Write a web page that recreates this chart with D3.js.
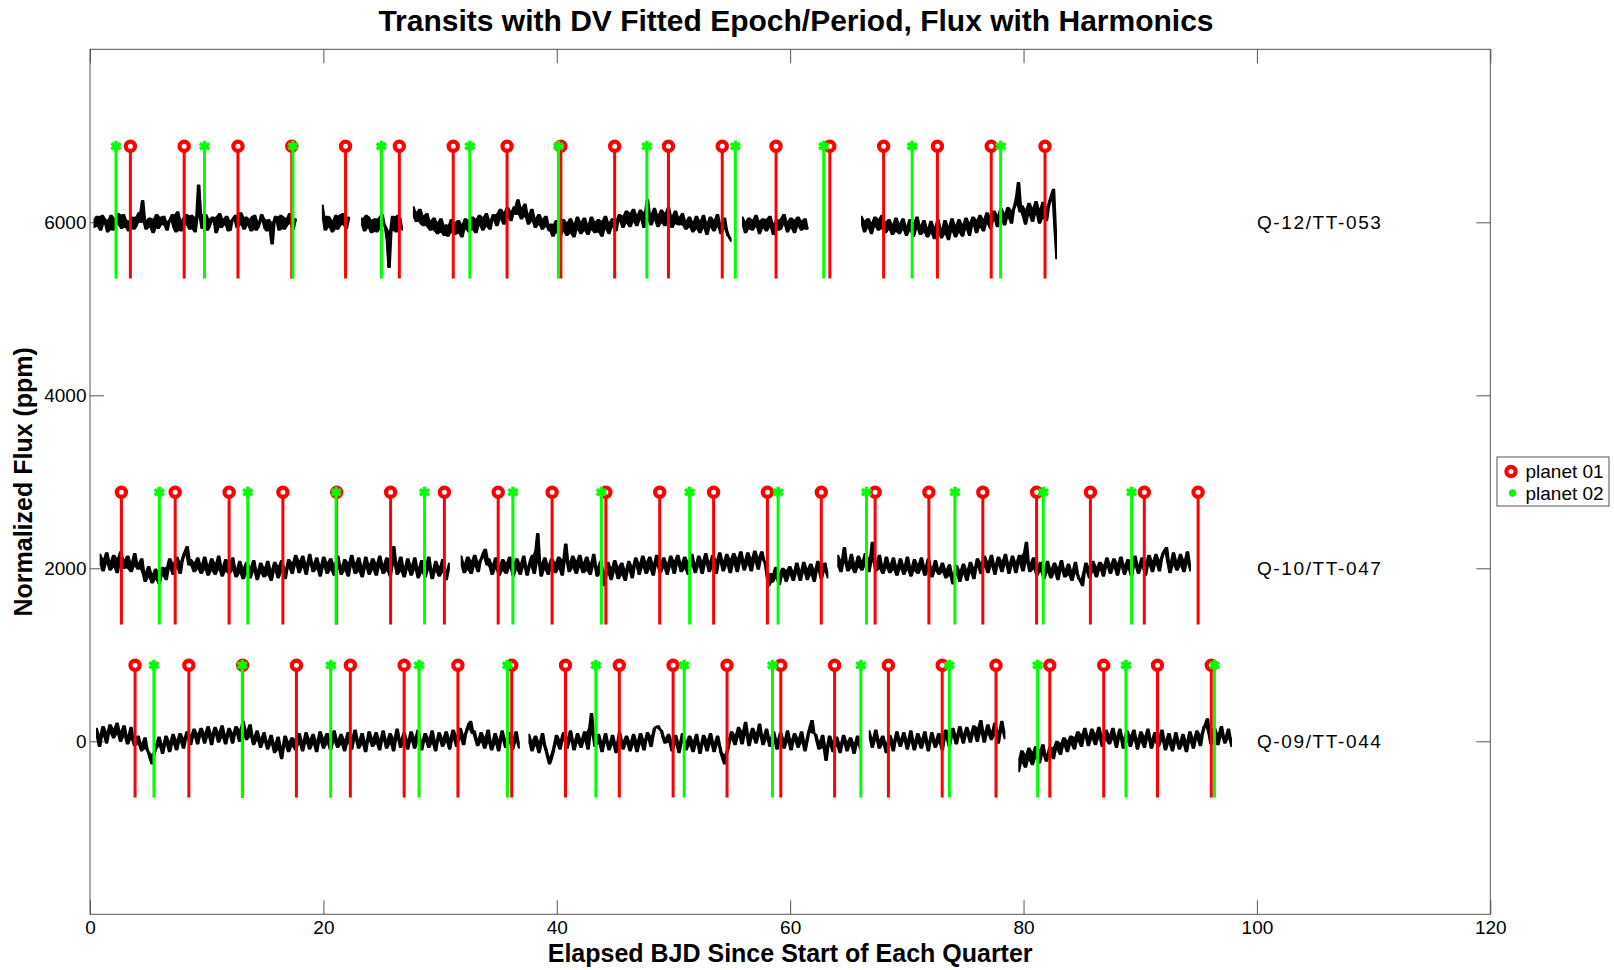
<!DOCTYPE html>
<html>
<head>
<meta charset="utf-8">
<script src="https://cdn.jsdelivr.net/npm/d3@7"></script>
<style>
  html, body { margin: 0; padding: 0; background: #fff; }
  svg { display: block; font-family: "Liberation Sans", Arial, Helvetica, sans-serif; }
</style>
</head>
<body>
<svg id="chart"></svg>
<script>
// quarters, plotted bottom to top with a flux offset each
const quarterLabels = ["Q-12/TT-053", "Q-10/TT-047", "Q-09/TT-044"];
const quarterOffsets = [6000, 2000, 0];

// transit times (days since start of quarter)
const q12Planet01 = [3.46, 8.07, 12.68, 17.29, 21.90, 26.51, 31.13, 35.74, 40.35, 44.96, 49.57, 54.18, 58.79, 63.40, 68.01, 72.62, 77.23, 81.84];
const q12Planet02 = [2.23, 9.81, 17.39, 24.97, 32.55, 40.14, 47.72, 55.30, 62.88, 70.46, 78.04];
const q10Planet01 = [2.69, 7.30, 11.92, 16.53, 21.14, 25.76, 30.37, 34.98, 39.60, 44.21, 48.82, 53.44, 58.05, 62.67, 67.28, 71.89, 76.51, 81.12, 85.73, 90.35, 94.96];
const q10Planet02 = [5.94, 13.52, 21.09, 28.67, 36.24, 43.82, 51.39, 58.97, 66.54, 74.12, 81.69, 89.26];
const q09Planet01 = [3.86, 8.47, 13.08, 17.69, 22.31, 26.92, 31.53, 36.14, 40.75, 45.36, 49.97, 54.59, 59.20, 63.81, 68.42, 73.03, 77.64, 82.25, 86.87, 91.48, 96.09];
const q09Planet02 = [5.48, 13.05, 20.63, 28.20, 35.77, 43.35, 50.92, 58.49, 66.06, 73.64, 81.21, 88.78, 96.36];

// stem extent relative to the quarter offset (ppm)
const stemRange = [-650, 880];

// flux: segments sampled every fluxStep days, values in ppm about the offset
const fluxStep = 0.15;
const q12FluxStarts = [0.31, 19.87, 23.23, 27.67, 55.87, 66.07];
const q12FluxValues = [
  [-60, 40, 70, -50, -90, 80, 40, -20, -110, 30, 80, -90, -40, 50, 100, -30, -70, 90, 30, -60,
   -100, 20, 60, -80, -50, 70, 110, 0, 250, 30, -80, -10, 50, -60, -120, 40, 90, -70, -30, 60,
   70, -40, -90, 10, 40, 90, -60, -110, 120, 30, -100, -20, 60, 90, -40, -80, 80, 20, -110, 60,
   430, 100, -70, -20, 90, -90, -50, 40, 60, 10, -120, 70, 100, -60, -30, 40, 70, -100, -90, 20,
   50, 80, -60, -30, 110, 20, -80, 60, 40, -40, -100, 70, 80, -90, -50, 10, 90, 40, -70, -100,
   30, -60, -250, 0, 70, 20, -90, 80, 60, -80, -40, 50, 100, -20, -80, 40, 20],
  [200, 40, -90, 70, 60, -60, -110, 20, 80, -80, -40, 90, 100, -30, -70, 60, 30],
  [50, -30, -100, 80, 60, -70, -120, 30, 40, -110, -80, 60, 90, -20, -60, -200, -520, -100, 70, 0,
   -110, 80, 50, -60, -90],
  [180, 60, 10, 120, 150, -20, -40, 80, 100, -60, -90, 20, 50, -100, -130, 0, 40, -120, -150, -30,
   -160, -40, 30, -120, -140, 0, 20, -130, -170, -20, 40, -80, -110, 20, 60, -90, -120, 40, 80, -40,
   -90, 60, 100, -50, -80, 30, 90, 20, -40, 110, 150, 30, -20, 120, 170, 60, 20, 130, 180, 90,
   260, 150, 40, 170, 210, 60, -20, 100, 150, 10, -60, 50, 90, -30, -80, 40, 70, -50, -100, -20,
   -160, -60, 20, -120, -180, -20, 30, -110, -150, 0, 40, -130, -170, -10, 60, -90, -130, 10, 50, -100,
   -140, -20, 60, -90, -120, 10, 30, -120, -160, 20, 70, -80, -130, 0, 40, -60, -100, 30, 90, 10,
   -60, 80, 130, -10, -50, 110, 150, 0, -40, 90, 140, 30, -60, 120, 260, 40, -30, 100, 160, 20,
   -50, 90, 140, -10, -40, 110, 170, 20, -60, 80, 130, -20, -30, 60, 100, -40, -80, 20, 60, -60,
   -110, 10, 70, -80, -120, 20, 80, -70, -140, 0, 60, -60, -100, 30, 90, -50, -130, -10, 50, -80,
   -150, -180, -220],
  [60, -40, -120, 10, 50, -80, -90, 30, 80, -50, -130, 20, 40, -70, -100, 40, 70, -60, -140, -10,
   30, -90, -80, 50, 90, -30, -110, 10, 50, -70, -120, 30, 60, -50, -90, 20, 40, -80, -60],
  [70, -30, -110, 20, 40, -70, -130, 0, 60, -50, -90, 40, 80, -80, -120, 10, 30, -90, -140, -20,
   50, -110, -130, -10, 40, -90, -150, -40, 30, -100, -160, 0, 60, -80, -140, -30, 20, -120, -170, -60,
   10, -130, -190, -50, 30, -100, -180, -70, 20, -140, -200, -40, 40, -110, -170, -30, 30, -120, -160, -20,
   50, -80, -150, 0, 60, -40, -120, 30, 80, -60, -100, 40, 110, -20, -70, 70, 130, 20, -50, 90,
   160, 40, -30, 110, 170, 50, -10, 140, 200, 300, 460, 120, 190, 60, -20, 150, 220, 80, 10, 170,
   240, 90, -10, 160, 230, 40, 20, 180, 250, 320, 380, -100, -420]
];
const q10FluxStarts = [0.83, 31.77, 64.05];
const q10FluxValues = [
  [160, 40, -30, 110, 180, 50, -20, 90, 150, 10, -50, 120, 190, 60, 0, 100, 140, -10, -40, 80,
   170, 20, -10, 60, 110, -60, -150, -40, 20, -110, -170, -60, -10, -130, -180, -80, 10, -90, -130, 20,
   110, -10, -70, 60, 130, 0, -60, 80, 150, 200, 250, 40, 100, 20, -40, 70, 120, -10, -60, 50,
   130, -20, -80, 40, 110, -30, -70, 60, 140, -20, -90, 30, 100, -40, -60, 50, 120, -30, -100, 0,
   80, -60, -120, 10, 70, -70, -110, 20, 90, -40, -130, -20, 60, -60, -100, 10, 80, -80, -140, -10,
   70, -40, -110, 30, 90, -50, -120, 0, 100, 20, -60, 70, 150, 30, -50, 90, 140, 10, -70, 60,
   160, 40, -40, 60, 120, -10, -90, 40, 130, 10, -60, 70, 110, -20, -80, 50, 140, 20, -70, 30,
   100, -30, -90, 70, 150, 20, -60, 60, 120, -40, -100, 30, 130, 0, -70, 50, 110, -20, -80, 60,
   140, 10, -60, 50, 120, -30, -90, 100, 250, 40, -70, 60, 130, -40, -100, 20, 110, -10, -80, 40,
   120, -20, -110, 10, 90, -50, -100, 30, 130, -20, -120, -10, 80, -40, -90, 20, 100, -50, -130, -20, 60],
  [140, 30, -50, 60, 130, -20, -60, 90, 150, 20, -40, 80, 120, 180, 220, 40, 110, 10, -70, 50,
   120, -10, -80, 40, 100, -30, -60, 70, 130, 0, -90, 30, 110, -20, -70, 60, 140, 10, -80, 20,
   100, 150, -60, 200, 400, 60, -90, 40, 120, -20, -70, 50, 110, 20, -50, 70, 130, -10, -80, 100,
   280, 80, -40, 60, 140, 0, -60, 90, 150, 10, -50, 70, 130, -30, -70, 60, 160, 20, -90, 0,
   80, -60, -200, -40, 70, -70, -130, 10, 90, -40, -120, 20, 60, -80, -140, -10, 80, -30, -110, 30,
   120, 20, -70, 60, 140, 10, -60, 80, 130, -10, -80, 60, 150, 30, -50, 50, 120, 0, -70, 60,
   140, 20, -60, 90, 150, 40, -40, 70, 130, -10, -70, 80, 160, 30, -50, 60, 140, 20, -60, 90,
   170, 50, -40, 80, 150, 20, -60, 100, 180, 60, -30, 90, 160, 30, -50, 110, 170, 40, -40, 120,
   190, 60, -20, 100, 180, 40, -30, 120, 200, 70, -10, 130, 190, 100, 60, -80,
   -200, -60, -160, -100, 10, -120, -190, -50, 0, -90, -150, -20, 20, -80, -140, -30,
   60, -60, -140, -20, 70, -50, -130, 0, 50, -80, -150, -10, 80, -30, -120, 0, 60, -40, -110],
  [150, 20, -40, 100, 240, 60, -30, 70, 160, 0, -50, 60, 140, 10, -20, 90, 170, 30, -40, 120,
   300, 80, -30, 50, 150, -10, -60, 40, 130, 0, -50, 50, 120, -20, -80, 30, 110, -10, -70, 40,
   130, -20, -90, 20, 100, -30, -60, 50, 120, -10, -80, 30, 110, -40, -100, 10, 90, -30, -70, 0,
   60, -50, -110, -10, 40, -90, -180, -60, 30, -80, -150, -20, 50, -70, -140, -10, 70, -50, -120, 10,
   110, 20, -60, 70, 140, 10, -50, 80, 150, 20, -70, 50, 130, 30, -40, 90, 160, 40, -60, 60,
   140, 30, -50, 80, 150, 50, -30, 180, 300, 60, -40, 40, 120, -10, -80, 0, 70, -40, -120, -10,
   80, -50, -110, 0, 60, -60, -130, 10, 90, -30, -100, -10, 50, -80, -140, -20, 70, -60, -120, -150,
   -200, -40, 60, -30, -110, 10, 80, -40, -100, 20, 70, -20, -90, 40, 120, 10, -60, 50, 110, 0,
   -80, 60, 130, 10, -70, 40, 100, -10, -90, 50, 140, 20, -60, 40, 120, 10, -80, 70, 150, 30,
   -40, 90, 160, 40, -30, 100, 170, 210, 240, 60, -50, 80, 180, 30, -20, 90, 160, 20, -40, 100, 190, 50, -30]
];
const q09FluxStarts = [0.52, 37.58, 66.74, 79.56];
const q09FluxValues = [
  [150, 40, -60, 80, 170, 60, -20, 110, 190, 90, 40, 150, 210, 80, 0, 120, 180, 50, -30, 70,
   160, 20, -50, 10, 60, -40, -110, -20, 40, -90, -130, -200, -260, -150, -90, -20, 50, -60, -140, -30,
   60, -40, -120, 0, 80, -30, -100, 20, 90, -10, -80, 40, 110, 30, -40, 80, 140, 50, -30, 90,
   150, 60, -20, 100, 170, 50, -40, 90, 160, 70, -10, 110, 180, 40, -30, 80, 150, 60, -20, 100,
   170, 80, 0, 140, 230, 90, 20, 130, 190, 50, -40, 60, 120, 10, -70, 40, 100, -10, -90, 0,
   70, -40, -130, -20, 50, -100, -200, -60, 60, -50, -120, 0, 40, -60, -100, 20, 90, -30, -110, 10,
   100, -20, -90, 30, 80, -40, -120, 10, 110, -10, -80, 40, 90, -30, -100, 20, 120, -10, -70, 30,
   80, -40, -110, 20, 100, -20, -90, 50, 130, 10, -80, 20, 90, -40, -120, 0, 110, 10, -60, 40,
   100, -30, -100, 30, 120, 10, -80, 20, 90, -30, -110, 40, 140, 20, -70, 30, 100, -20, -90, 20,
   110, 0, -80, 50, 130, -10, -100, 10, 90, 0, -70, 40, 120, -30, -110, 10, 100, 20, -60, 40,
   110, -10, -90, 40, 130, 20, -60, 70, 150, 30, -40, 80, 140, 200, 230, 90, 120, 20, -50, 30,
   100, -10, -80, 50, 130, -20, -100, 0, 90, -30, -110, 20, 120, 10, -70, 30, 100, -20, -90, 30, 110, -10, -80],
  [80, -20, -110, 10, 60, -50, -130, 0, 90, -30, -100, -180, -260, -200, -120, -30, 70, -10, -90, 20,
   100, 10, -80, 40, 120, 0, -100, 10, 90, -20, -70, 30, 110, 0, -90, 150, 320, 80, -60, 20,
   80, -30, -120, 0, 90, -20, -100, -10, 70, -40, -130, -20, 100, 10, -90, -10, 60, -30, -110, 0,
   80, -40, -120, 10, 90, -30, -100, 20, 100, 30, -60, 60, 150, 170, 180, 140, 120, 40, -20, 30,
   80, -20, -110, 10, 70, -40, -130, -10, 90, -20, -100, 0, 60, -50, -120, 10, 80, -40, -140, -30,
   70, -20, -110, 20, 90, -30, -120, -10, 60, -40, -130, -200, -260, -150, -80, 30, 110, 20, -40, 80,
   160, 50, -30, 120, 220, 70, -50, 80, 150, 40, -20, 100, 200, 60, -40, 70, 140, 20, -60, 40,
   110, 0, -90, 20, 100, 10, -80, 30, 120, -10, -100, 20, 90, 0, -70, 40, 110, -20, -110, 0,
   100, 170, 240, 90, 80, -10, -90, 0, 70, -80, -220, -50, 60, -40, -120, 0, 50, -60, -130, -20,
   70, -30, -110, 0, 40, -50, -140, -20, 60, -40, -100],
  [120, 30, -70, 40, 130, 10, -80, 20, 60, -40, -130, -20, 70, -30, -110, 10, 110, 20, -60, 30,
   100, 0, -90, 20, 120, -10, -100, 10, 90, -20, -80, 30, 110, -10, -110, 0, 100, 20, -70, 20,
   90, -20, -100, 40, 130, 30, -60, 60, 150, 50, -30, 80, 170, 60, -20, 90, 160, 70, -10, 100,
   180, 80, 0, 160, 240, 90, -10, 110, 190, 80, 20, 120, 210, 60, -20, 120, 230, 110, 30],
  [-350, -200, -110, -250, -300, -150, -80, -220, -270, -120, -60, -200, -250, -100, -40, -160, -230, -150, -70, -120,
   -200, -60, 0, -100, -150, -20, 40, -60, -120, 10, 60, -40, -90, 50, 110, 0, -60, 80, 150, 40,
   -50, 60, 140, 20, -40, 90, 160, 30, -60, 70, 130, 10, -30, 80, 150, 20, -70, 60, 140, 30,
   -80, 40, 120, 0, -60, 70, 130, 10, -90, 30, 110, -10, -70, 60, 140, 20, -80, 30, 100, -10,
   -60, 50, 130, 0, -100, 20, 90, -30, -110, 10, 100, -20, -90, 0, 80, -40, -120, 10, 110, -10,
   -80, 40, 120, 20, -50, 80, 160, 200, 260, 90, -30, 60, 150, 30, -40, 90, 170, 50, -20, 60, 140, 30, -60]
];

const planetNames = ["planet 01", "planet 02"];
const planetColors = ["#ff0000", "#00ff00"];
const xTicks = [0, 20, 40, 60, 80, 100, 120];
const yTicks = [0, 2000, 4000, 6000];

const fluxStarts = [q12FluxStarts, q10FluxStarts, q09FluxStarts];
const fluxValues = [q12FluxValues, q10FluxValues, q09FluxValues];
const planet01 = [q12Planet01, q10Planet01, q09Planet01];
const planet02 = [q12Planet02, q10Planet02, q09Planet02];

// layout
const W = 1614, H = 970;
const plotL = 90, plotR = 1490.3, plotT = 49.3, plotB = 914.3;

const svg = d3.select("#chart").attr("width", W).attr("height", H);

const x = d3.scaleLinear().domain([0, 120]).range([plotL, plotR]);
const y = d3.scaleLinear().domain([-2000, 8000]).range([plotB, plotT]);

const axisColor = "#555";
const tickLen = 14;

// frame
svg.append("rect")
  .attr("x", plotL).attr("y", plotT)
  .attr("width", plotR - plotL).attr("height", plotB - plotT)
  .attr("fill", "#fff").attr("stroke", axisColor).attr("stroke-width", 1);

// x ticks, inward on bottom and top
const xAxisB = svg.append("g").attr("transform", `translate(0,${plotB})`)
  .call(d3.axisBottom(x).tickValues(xTicks).tickSize(-tickLen).tickFormat(d3.format("d")));
const xAxisT = svg.append("g").attr("transform", `translate(0,${plotT})`)
  .call(d3.axisTop(x).tickValues(xTicks).tickSize(-tickLen).tickFormat(""));
// y ticks, inward on left and right
const yAxisL = svg.append("g").attr("transform", `translate(${plotL},0)`)
  .call(d3.axisLeft(y).tickValues(yTicks).tickSize(-tickLen).tickFormat(d3.format("d")));
const yAxisR = svg.append("g").attr("transform", `translate(${plotR},0)`)
  .call(d3.axisRight(y).tickValues(yTicks).tickSize(-tickLen).tickFormat(""));

[xAxisB, xAxisT, yAxisL, yAxisR].forEach(g => {
  g.select(".domain").remove();
  g.selectAll(".tick line").attr("stroke", axisColor);
  g.selectAll("text")
    .attr("fill", "#000")
    .style("font-size", "19px")
    .style("font-family", "'Liberation Sans', Arial, sans-serif");
});
xAxisT.selectAll("text").remove();
yAxisR.selectAll("text").remove();
xAxisB.selectAll("text").attr("dy", null).attr("y", 19.5);
yAxisL.selectAll("text").attr("x", -3.5);

// flux curves: a filled band of the local sample range, with the samples on top
const fluxArea = d3.area()
  .x(d => x(d.t))
  .y0(d => y(d.lo))
  .y1(d => y(d.hi));
const fluxLine = d3.line()
  .curve(d3.curveStep)
  .x(d => x(d.t))
  .y(d => y(d.v));

const fluxG = svg.append("g");
quarterOffsets.forEach((off, qi) => {
  fluxStarts[qi].forEach((start, si) => {
    const vals = fluxValues[qi][si];
    const pts = vals.map((v, i) => {
      const win = vals.slice(Math.max(0, i - 1), i + 2);
      return { t: start + i * fluxStep, v: off + v, lo: off + d3.min(win), hi: off + d3.max(win) };
    });
    fluxG.append("path")
      .datum(pts)
      .attr("fill", "#000")
      .attr("stroke", "none")
      .attr("d", fluxArea);
    fluxG.append("path")
      .datum(pts)
      .attr("fill", "none")
      .attr("stroke", "#000")
      .attr("stroke-width", 1.2)
      .attr("d", fluxLine);
  });
});

// transit stems and markers
const asterisk = d3.symbol(d3.symbolAsterisk, 85);

function drawStems(times, off, color, isStar) {
  const g = svg.append("g");
  g.selectAll("line")
    .data(times)
    .join("line")
    .attr("x1", d => x(d)).attr("x2", d => x(d))
    .attr("y1", y(off + stemRange[0])).attr("y2", y(off + stemRange[1]))
    .attr("stroke", color).attr("stroke-width", 3);
  if (isStar) {
    g.selectAll("path")
      .data(times)
      .join("path")
      .attr("transform", d => `translate(${x(d)},${y(off + stemRange[1])})`)
      .attr("d", asterisk)
      .attr("fill", "none").attr("stroke", color).attr("stroke-width", 3.4);
  } else {
    g.selectAll("circle")
      .data(times)
      .join("circle")
      .attr("cx", d => x(d)).attr("cy", y(off + stemRange[1]))
      .attr("r", 4.6)
      .attr("fill", "#fff").attr("stroke", color).attr("stroke-width", 4.2);
  }
}

quarterOffsets.forEach((off, qi) => {
  drawStems(planet01[qi], off, planetColors[0], false);
  drawStems(planet02[qi], off, planetColors[1], true);
});

// quarter labels
svg.append("g").selectAll("text")
  .data(quarterLabels)
  .join("text")
  .attr("x", x(100))
  .attr("y", (d, i) => y(quarterOffsets[i]))
  .attr("dy", "0.36em")
  .attr("textLength", 124)
  .attr("lengthAdjust", "spacing")
  .style("font-size", "19px")
  .text(d => d);

// title and axis labels
svg.append("text")
  .attr("x", 796).attr("y", 31)
  .attr("text-anchor", "middle")
  .style("font-size", "30px").style("font-weight", "bold")
  .text("Transits with DV Fitted Epoch/Period, Flux with Harmonics");

svg.append("text")
  .attr("x", (plotL + plotR) / 2).attr("y", 962)
  .attr("text-anchor", "middle")
  .style("font-size", "25px").style("font-weight", "bold")
  .text("Elapsed BJD Since Start of Each Quarter");

svg.append("text")
  .attr("transform", `translate(32,${(plotT + plotB) / 2}) rotate(-90)`)
  .attr("text-anchor", "middle")
  .style("font-size", "25px").style("font-weight", "bold")
  .text("Normalized Flux (ppm)");

// legend
const lg = svg.append("g").attr("transform", "translate(1497,457)");
lg.append("rect")
  .attr("width", 112).attr("height", 49)
  .attr("fill", "#fff").attr("stroke", axisColor);
planetNames.forEach((name, i) => {
  const cy = 14.5 + i * 21.5;
  if (i === 0) {
    lg.append("circle").attr("cx", 14).attr("cy", cy).attr("r", 4.6)
      .attr("fill", "#fff").attr("stroke", planetColors[0]).attr("stroke-width", 4.2);
  } else {
    lg.append("path").attr("transform", `translate(15.5,${cy})`).attr("d", d3.symbol(d3.symbolAsterisk, 40))
      .attr("fill", "none").attr("stroke", planetColors[1]).attr("stroke-width", 3);
  }
  lg.append("text").attr("x", 28.5).attr("y", cy).attr("dy", "0.36em")
    .style("font-size", "19px").text(name);
});
</script>
</body>
</html>
